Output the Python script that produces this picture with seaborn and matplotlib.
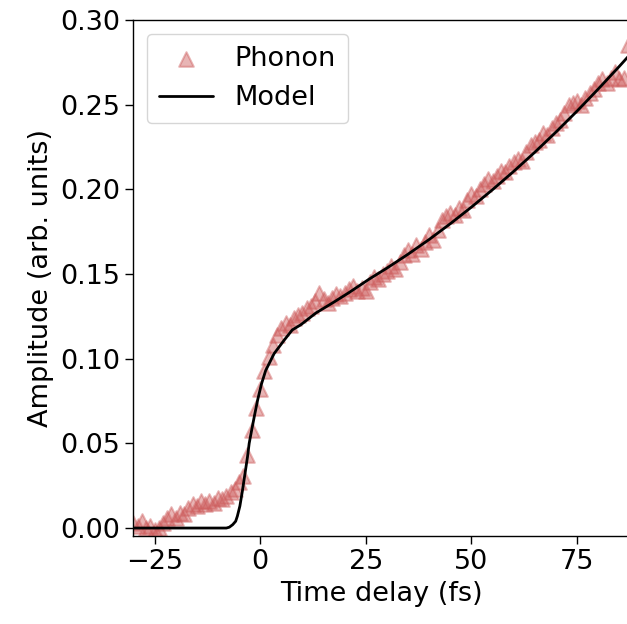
import numpy as np
import pandas as pd
import seaborn as sns
import matplotlib.pyplot as plt

time_fs = [
    -30, -29, -28, -27, -26, -25, -24, -23, -22, -21, -20, -19, -18, -17, -16,
    -15, -14, -13, -12, -11, -10, -9, -8, -7, -6, -5, -4, -3, -2, -1,
    0, 1, 2, 3, 4, 5, 6, 7, 8, 9, 10, 11, 12, 13, 14,
    15, 16, 17, 18, 19, 20, 21, 22, 23, 24, 25, 26, 27, 28, 29,
    30, 31, 32, 33, 34, 35, 36, 37, 38, 39, 40, 41, 42, 43, 44,
    45, 46, 47, 48, 49, 50, 51, 52, 53, 54, 55, 56, 57, 58, 59,
    60, 61, 62, 63, 64, 65, 66, 67, 68, 69, 70, 71, 72, 73, 74,
    75, 76, 77, 78, 79, 80, 81, 82, 83, 84, 85, 86, 87,
]
phonon = [
    0.003, 0.001, 0.004, 0.000, 0.001, -0.001, 0.000, 0.003, 0.006, 0.008,
    0.006, 0.009, 0.008, 0.012, 0.014, 0.013, 0.016, 0.014, 0.016, 0.015,
    0.018, 0.017, 0.019, 0.021, 0.023, 0.027, 0.031, 0.043, 0.058, 0.071,
    0.082, 0.093, 0.101, 0.108, 0.114, 0.118, 0.121, 0.120, 0.124, 0.126,
    0.127, 0.130, 0.131, 0.134, 0.139, 0.135, 0.133, 0.136, 0.138, 0.137,
    0.139, 0.141, 0.143, 0.140, 0.142, 0.140, 0.145, 0.148, 0.147, 0.150,
    0.152, 0.155, 0.153, 0.157, 0.161, 0.164, 0.162, 0.167, 0.165, 0.169,
    0.173, 0.170, 0.176, 0.182, 0.184, 0.186, 0.185, 0.189, 0.188, 0.194,
    0.197, 0.196, 0.200, 0.203, 0.206, 0.205, 0.208, 0.211, 0.210, 0.214,
    0.216, 0.218, 0.217, 0.222, 0.226, 0.228, 0.229, 0.233, 0.232, 0.236,
    0.239, 0.241, 0.245, 0.250, 0.251, 0.252, 0.250, 0.254, 0.257, 0.259,
    0.263, 0.265, 0.263, 0.266, 0.269, 0.265, 0.266, 0.285,
]

# model curve
model_t = [-31, -8, -7.3, -6.5, -5.8, -5.4, -4.8, -4.2, -3.6, -3.0, -2.6,
           -2.0, -1.3, -0.6, 0.3, 1.3, 2.3, 3.3, 4.5, 5.7, 7.6, 9.6, 13.2,
           17.5, 21, 25.8, 30, 35, 40, 45, 50, 55, 60, 65, 70, 75, 80, 85, 88]
model_y = [0.0, 0.0, 0.0005, 0.002, 0.004, 0.007, 0.013, 0.022, 0.032, 0.042,
           0.050, 0.058, 0.067, 0.0756, 0.085, 0.093, 0.098, 0.103, 0.107,
           0.111, 0.117, 0.120, 0.127, 0.1335, 0.139, 0.147, 0.1535, 0.1617,
           0.1704, 0.1797, 0.1895, 0.1998, 0.2106, 0.2219, 0.2338, 0.2462,
           0.2592, 0.2726, 0.2809]

df_data = pd.DataFrame({'t': time_fs, 'amp': phonon})
df_model = pd.DataFrame({'t': model_t, 'amp': model_y})

sns.set_theme(style='ticks')
plt.rcParams['font.family'] = ['DejaVu Sans']
plt.rcParams['text.color'] = 'black'
plt.rcParams['axes.labelcolor'] = 'black'
fs = 19.5

fig = plt.figure(figsize=(6.27, 6.24), dpi=100)
ax = fig.add_axes([133 / 627, 88 / 624, 496 / 627, 516 / 624])

sns.scatterplot(data=df_data, x='t', y='amp', ax=ax, marker='^', s=110,
                color='indianred', alpha=0.45, edgecolor='indianred',
                linewidth=1.5, label='Phonon', zorder=2)
sns.lineplot(data=df_model, x='t', y='amp', ax=ax, color='black', lw=2,
             label='Model', zorder=3)

ax.set_xlim(-30.1, 87.3)
ax.set_ylim(-0.0047, 0.30)
ax.set_xticks([-25, 0, 25, 50, 75])
ax.set_yticks([0.0, 0.05, 0.10, 0.15, 0.20, 0.25, 0.30])
ax.tick_params(labelsize=fs, length=6, width=1.0, colors='black')
for sp in ax.spines.values():
    sp.set_linewidth(1.0)
    sp.set_color('black')
ax.set_xlabel('Time delay (fs)', fontsize=fs)
ax.set_ylabel('Amplitude (arb. units)', fontsize=fs)
ax.legend(loc='upper left', fontsize=fs, frameon=True, borderpad=0.45,
          handlelength=2.0, borderaxespad=0.5)

fig.savefig('out.png', dpi=100)
